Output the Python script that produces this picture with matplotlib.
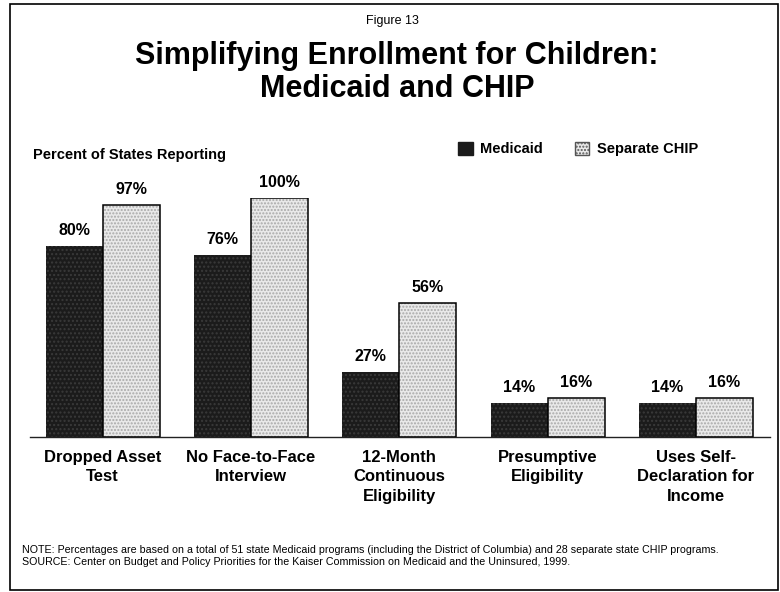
import matplotlib
matplotlib.use('Agg')
import matplotlib.pyplot as plt
from matplotlib.patches import Rectangle, Patch
import numpy as np

# data
categories = ['Dropped Asset\nTest', 'No Face-to-Face\nInterview', '12-Month\nContinuous\nEligibility',
              'Presumptive\nEligibility', 'Uses Self-\nDeclaration for\nIncome']
medicaid = [80, 76, 27, 14, 14]
chip = [97, 100, 56, 16, 16]
series_names = ['Medicaid', 'Separate CHIP']

title_lines = ['Simplifying Enrollment for Children:', 'Medicaid and CHIP']
note = ('NOTE: Percentages are based on a total of 51 state Medicaid programs (including the District of Columbia) '
        'and 28 separate state CHIP programs.')
source = 'SOURCE: Center on Budget and Policy Priorities for the Kaiser Commission on Medicaid and the Uninsured, 1999.'

plt.rcParams['font.family'] = ['Liberation Sans', 'DejaVu Sans']

W, H = 780, 592
fig = plt.figure(figsize=(W / 100, H / 100), dpi=100)


def fx(px):
    return px / W


def fy(py):
    return 1 - py / H


# axes placed in pixel terms: baseline at y=436.5, 100% at y=198
ax = fig.add_axes([fx(30), fy(436.5), fx(740), (436.5 - 198) / H])
x = np.arange(len(categories))
w = 0.384

med_col = '#1b1b1b'
chip_col = '#e9e9e9'

ax.bar(x - w / 2, medicaid, w, color=med_col, hatch='....', edgecolor='#3a3a3a', linewidth=0)
ax.bar(x + w / 2, chip, w, color=chip_col, hatch='.....', edgecolor='#a8a8a8', linewidth=0)
ax.bar(x + w / 2, chip, w, fill=False, edgecolor='black', linewidth=1.1)

for xi, v in zip(x - w / 2, medicaid):
    ax.annotate(f'{v}%', (xi, v), xytext=(0, 8), textcoords='offset points',
                ha='center', va='baseline', fontsize=11.5, fontweight='bold')
for xi, v in zip(x + w / 2, chip):
    ax.annotate(f'{v}%', (xi, v), xytext=(0, 8), textcoords='offset points',
                ha='center', va='baseline', fontsize=11.5, fontweight='bold')

ax.set_xlim(-0.49, 4.50)
ax.set_ylim(0, 100)
ax.set_yticks([])
ax.set_xticks(x)
ax.set_xticklabels(categories, fontsize=12, fontweight='bold', linespacing=1.4)
ax.tick_params(axis='x', length=0, pad=9.5)
for s in ['left', 'top', 'right']:
    ax.spines[s].set_visible(False)
ax.spines['bottom'].set_color('#222222')
ax.spines['bottom'].set_linewidth(1.0)
ax.patch.set_alpha(0)

# legend
handles = [Patch(facecolor=med_col, edgecolor=med_col, hatch='....'),
           Patch(facecolor=chip_col, edgecolor='#555555', hatch='.....')]
fig.legend(handles, series_names, loc='center left', bbox_to_anchor=(fx(458), fy(149)),
           ncol=2, frameon=False, prop={'weight': 'bold', 'size': 10.5},
           handlelength=1.0, handleheight=1.0, handletextpad=0.5, columnspacing=2.2,
           borderpad=0, borderaxespad=0)

# texts
fig.text(fx(392), fy(24), 'Figure 13', ha='center', va='baseline', fontsize=9)
fig.text(fx(397), fy(64), title_lines[0], ha='center', va='baseline', fontsize=22, fontweight='bold')
fig.text(fx(397), fy(97), title_lines[1], ha='center', va='baseline', fontsize=22, fontweight='bold')
fig.text(fx(33), fy(159), 'Percent of States Reporting', ha='left', va='baseline',
         fontsize=10.5, fontweight='bold')
fig.text(fx(22), fy(553), note, ha='left', va='baseline', fontsize=7.7)
fig.text(fx(22), fy(565), source, ha='left', va='baseline', fontsize=7.7)

# frame around the slide
fig.add_artist(Rectangle((fx(10), fy(590)), fx(768), (590 - 4) / H, transform=fig.transFigure,
                         fill=False, edgecolor='black', linewidth=1.2))

fig.savefig('out.png', dpi=100)
